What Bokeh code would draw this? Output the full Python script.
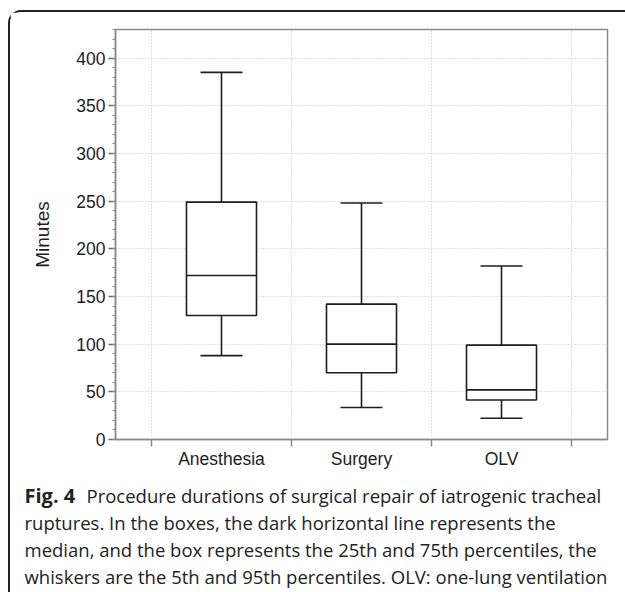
from bokeh.plotting import figure
from bokeh.layouts import column
from bokeh.models import Range1d, FixedTicker, SingleIntervalTicker
from bokeh.core.properties import value
from bokeh.embed import file_html
from bokeh.resources import INLINE
import numpy as np

# ---- data ----
categories = ["Anesthesia", "Surgery", "OLV"]
p5 = [88, 33.5, 22.3]
p25 = [130, 70, 41.5]
p50 = [172, 100, 52]
p75 = [249, 142, 99]
p95 = [385, 248, 182]
y_label = "Minutes"
caption_bold = "Fig. 4"
caption_lines = [
    "Procedure durations of surgical repair of iatrogenic tracheal",
    "ruptures. In the boxes, the dark horizontal line represents the",
    "median, and the box represents the 25th and 75th percentiles, the",
    "whiskers are the 5th and 95th percentiles. OLV: one-lung ventilation",
]

ink = "#1e1e1e"
gray = "#8a8a8a"

# ---- chart figure ----
W, H = 615, 466
xpos = np.arange(1, len(categories) + 1, dtype=float)
box_w = 0.5
cap_w = 0.3

p = figure(width=W, height=H, output_backend="svg", toolbar_location=None,
           x_range=Range1d(0.243, 3.757), y_range=Range1d(0, 430),
           min_border_left=105, min_border_right=18, min_border_top=17,
           min_border_bottom=39, title_location=None)
p.background_fill_color = "white"
p.border_fill_color = "white"
p.outline_line_color = gray
p.outline_line_width = 1.5

lw = 1.6
p.segment(x0=xpos, y0=p75, x1=xpos, y1=p95, line_color=ink, line_width=lw)
p.segment(x0=xpos, y0=p5, x1=xpos, y1=p25, line_color=ink, line_width=lw)
p.segment(x0=xpos - cap_w / 2, y0=p95, x1=xpos + cap_w / 2, y1=p95, line_color=ink, line_width=lw)
p.segment(x0=xpos - cap_w / 2, y0=p5, x1=xpos + cap_w / 2, y1=p5, line_color=ink, line_width=lw)
p.vbar(x=xpos, width=box_w, bottom=p25, top=p75, fill_color="white",
       line_color=ink, line_width=lw)
p.segment(x0=xpos - box_w / 2, y0=p50, x1=xpos + box_w / 2, y1=p50, line_color=ink, line_width=lw)

xa = p.xaxis[0]
xa.ticker = FixedTicker(ticks=list(xpos), minor_ticks=list(xpos - 0.5) + [xpos[-1] + 0.5])
xa.major_label_overrides = {float(x): c for x, c in zip(xpos, categories)}
xa.major_tick_out = 0
xa.major_tick_in = 0
xa.minor_tick_out = 7
xa.minor_tick_in = 0
xa.minor_tick_line_color = gray
xa.minor_tick_line_width = 1.5
xa.axis_line_color = gray
xa.axis_line_width = 1.5
xa.major_label_standoff = 2
xa.major_label_text_font = "Liberation Sans"
xa.major_label_text_font_size = "17.5px"
xa.major_label_text_color = ink

ya = p.yaxis[0]
ya.ticker = SingleIntervalTicker(interval=50, num_minor_ticks=5)
ya.major_tick_out = 7
ya.major_tick_in = 0
ya.minor_tick_out = 3
ya.minor_tick_in = 0
ya.major_tick_line_color = "#6e6e6e"
ya.minor_tick_line_color = gray
ya.major_tick_line_width = 1.5
ya.minor_tick_line_width = 1.2
ya.axis_line_color = gray
ya.axis_line_width = 1.5
ya.major_label_standoff = 3
ya.major_label_text_font = "Liberation Sans"
ya.major_label_text_font_size = "17.5px"
ya.major_label_text_color = ink
ya.axis_label = y_label
ya.axis_label_text_font = "Liberation Sans"
ya.axis_label_text_font_size = "19px"
ya.axis_label_text_font_style = "normal"
ya.axis_label_text_color = ink
ya.axis_label_standoff = 20

p.ygrid.grid_line_color = "#c4c4c4"
p.ygrid.grid_line_dash = "1 2"
p.xgrid.grid_line_color = None
p.xgrid.minor_grid_line_color = "#c4c4c4"
p.xgrid.minor_grid_line_dash = "1 2"

# ---- caption figure (page pixel coordinates) ----
CX0, CW, CY0, CH = 10, 615, 478, 114
c = figure(width=CW, height=CH, output_backend="svg", toolbar_location=None,
           x_range=Range1d(CX0, CX0 + CW), y_range=Range1d(CY0 + CH, CY0),
           x_axis_location=None, y_axis_location=None, title_location=None,
           min_border=0, min_border_left=0, min_border_right=0,
           min_border_top=0, min_border_bottom=0)
c.grid.visible = False
c.outline_line_color = None
c.background_fill_color = "white"
c.border_fill_color = "white"

fs = "18.5px"
base_y = [495, 522, 549, 576]
cap_x = [86, 24, 24, 24]
c.text(x=[24], y=[base_y[0]], text=[caption_bold], text_font=value("Open Sans"),
       text_font_style="bold", text_font_size="20px", text_color="#222222",
       text_baseline="alphabetic")
c.text(x=cap_x, y=base_y, text=caption_lines, text_font=value("Open Sans"),
       text_font_size=fs, text_color="#222222", text_baseline="alphabetic")

top_part = column(p, margin=(10, 0, 0, 8),
                  styles={"border-top": "2px solid #222222",
                          "border-left": "2px solid #222222",
                          "border-top-left-radius": "13px"})
bottom_part = column(c, margin=(0, 0, 0, 8),
                     styles={"border-left": "2px solid #222222"})

open("out.html", "w").write(file_html([top_part, bottom_part], INLINE))
